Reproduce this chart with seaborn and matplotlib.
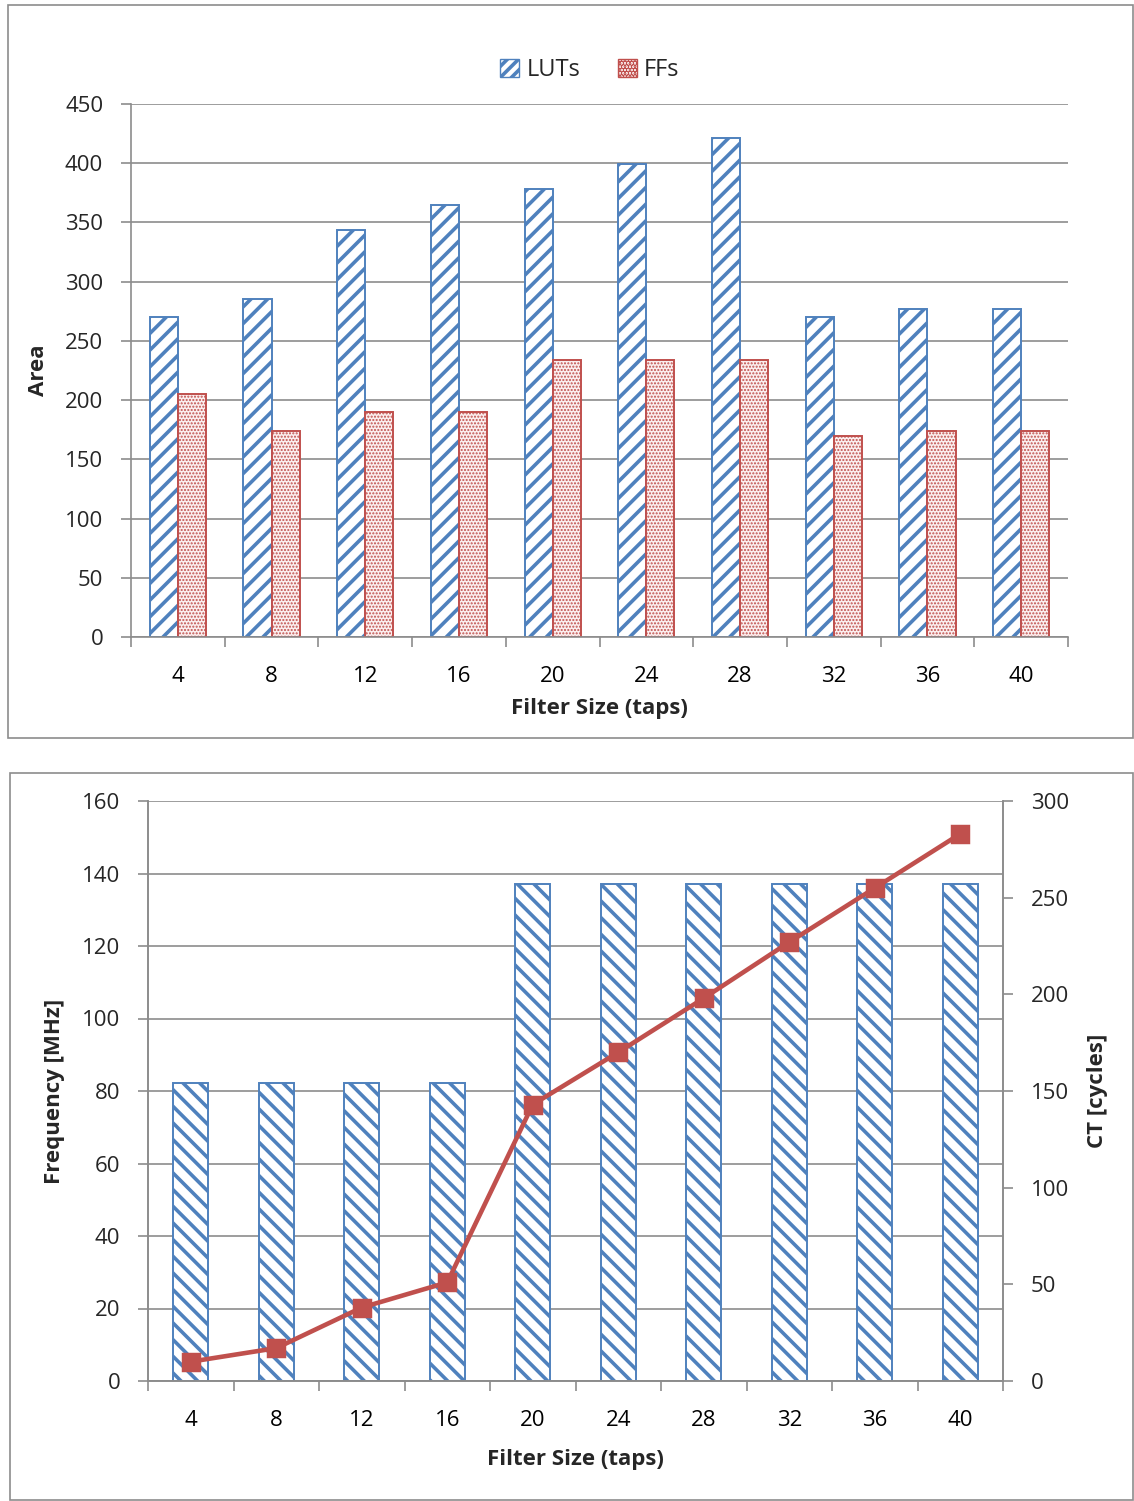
import numpy as np
import pandas as pd
import matplotlib
matplotlib.use('Agg')
import matplotlib.pyplot as plt
from matplotlib.patches import Patch, Rectangle
import seaborn as sns

# --- data ---
taps = ['4', '8', '12', '16', '20', '24', '28', '32', '36', '40']
luts = [270, 285, 344, 365, 378, 399, 421, 270, 277, 277]
ffs = [205, 174, 190, 190, 234, 234, 234, 170, 174, 174]
freq_mhz = [82.2, 82.2, 82.2, 82.2, 137.1, 137.1, 137.1, 137.1, 137.1, 137.1]
ct_cycles = [10, 17, 38, 51, 143, 170, 198, 227, 255, 283]
area_ticks = list(range(0, 451, 50))
freq_ticks = list(range(0, 161, 20))
ct_ticks = list(range(0, 301, 50))

BLUE = '#4F81BD'
RED = '#C0504D'
GRID = '#8C8C8C'
W, H = 1134, 1501
TICK_FS = 16
LABEL_FS = 16

sns.set_theme(style='white')
plt.rcParams['font.family'] = ['Open Sans', 'DejaVu Sans']
plt.rcParams['hatch.linewidth'] = 2.6

fig = plt.figure(figsize=(W / 100, H / 100), dpi=100)

def px_box(x0, y0, x1, y1):
    # pixel box (top-left origin) -> figure rect
    return [x0 / W, 1 - y1 / H, (x1 - x0) / W, (y1 - y0) / H]

# panel frames
for x0, y0, x1, y1 in [(8, 5, 1133, 738), (10, 773, 1133, 1500)]:
    r = px_box(x0, y0, x1, y1)
    fig.patches.append(Rectangle((r[0], r[1]), r[2], r[3], transform=fig.transFigure,
                                 fill=False, edgecolor=GRID, lw=1.2))

def style_cat_axis(ax):
    ax.set_xlim(-0.5, len(taps) - 0.5)
    ax.set_xticks(np.arange(-0.5, len(taps), 1), minor=True)
    ax.tick_params(axis='x', which='major', bottom=True, length=0, pad=21, labelsize=TICK_FS, colors='black')
    ax.tick_params(axis='x', which='minor', bottom=True, length=7, width=1.2, color=GRID)
    ax.yaxis.grid(True, color=GRID, lw=1.2)
    ax.set_axisbelow(True)

# ================= top: area =================
ax1 = fig.add_axes(px_box(131, 104, 1068, 637))
df_area = pd.DataFrame({'taps': taps * 2, 'area': luts + ffs,
                        'kind': ['LUTs'] * len(taps) + ['FFs'] * len(taps)})
sns.barplot(data=df_area, x='taps', y='area', hue='kind', order=taps, hue_order=['LUTs', 'FFs'],
            width=0.6, gap=0, errorbar=None, legend=False, saturation=1, ax=ax1)
for bar in ax1.containers[0]:
    bar.set(facecolor='white', edgecolor=BLUE, hatch='//', linewidth=1.4)
for bar in ax1.containers[1]:
    bar.set(facecolor='#FBEFEF', edgecolor=RED, hatch='.....', linewidth=1.4)
    if hasattr(bar, 'set_hatch_linewidth'):
        bar.set_hatch_linewidth(1.0)

ax1.set_ylim(0, 450)
ax1.set_yticks(area_ticks)
style_cat_axis(ax1)
ax1.tick_params(axis='y', left=True, length=7, width=1.2, color=GRID, labelsize=TICK_FS, pad=13)
for s in ['top', 'right']:
    ax1.spines[s].set_visible(False)
for s in ['left', 'bottom']:
    ax1.spines[s].set_color(GRID)
    ax1.spines[s].set_linewidth(1.2)
ax1.set_xlabel('Filter Size (taps)', fontsize=LABEL_FS, fontweight='bold')
ax1.xaxis.set_label_coords(0.5, -0.115)
ax1.set_ylabel('Area', fontsize=LABEL_FS, fontweight='bold')
ax1.yaxis.set_label_coords(-0.088, 0.5)

handles = [Patch(facecolor='white', edgecolor=BLUE, hatch='///', label='LUTs'),
           Patch(facecolor='#FBEFEF', edgecolor=RED, hatch='.....', label='FFs')]
fig.legend(handles=handles, loc='center', bbox_to_anchor=(590 / W, 1 - 70 / H), ncol=2,
           frameon=False, fontsize=17, handlelength=0.8, handleheight=0.8,
           handletextpad=0.3, columnspacing=1.6)

# ================= bottom: frequency + CT =================
ax2 = fig.add_axes(px_box(148, 801, 1003, 1381))
sns.barplot(x=taps, y=freq_mhz, order=taps, width=0.41, color='white', saturation=1,
            errorbar=None, ax=ax2)
for bar in ax2.patches:
    bar.set(facecolor='white', edgecolor=BLUE, hatch='\\\\', linewidth=1.4)

ax3 = ax2.twinx()
sns.pointplot(x=taps, y=ct_cycles, order=taps, color=RED, markers='s', markersize=11,
              linewidth=3.3, errorbar=None, ax=ax3)

ax2.set_ylim(0, 160)
ax2.set_yticks(freq_ticks)
ax3.set_ylim(0, 300)
ax3.set_yticks(ct_ticks)
style_cat_axis(ax2)
ax3.grid(False)
ax2.set_xlim(-0.5, len(taps) - 0.5)
ax2.tick_params(axis='y', left=True, length=7, width=1.2, color=GRID, labelsize=TICK_FS, pad=13)
ax3.tick_params(axis='y', right=True, length=7, width=1.2, color=GRID, labelsize=TICK_FS, pad=13)
for a in (ax2, ax3):
    a.spines['top'].set_visible(False)
    for s in ['left', 'right', 'bottom']:
        a.spines[s].set_color(GRID)
        a.spines[s].set_linewidth(1.2)
ax2.set_xlabel('Filter Size (taps)', fontsize=LABEL_FS, fontweight='bold')
ax2.xaxis.set_label_coords(0.5, -0.118)
ax2.set_ylabel('Frequency [MHz]', fontsize=LABEL_FS, fontweight='bold')
ax2.yaxis.set_label_coords(-0.097, 0.5)
ax3.set_ylabel('CT [cycles]', fontsize=LABEL_FS, fontweight='bold')
ax3.yaxis.set_label_coords(1.098, 0.5)
ax3.set_xlabel('')

fig.savefig('out.png', dpi=100)
